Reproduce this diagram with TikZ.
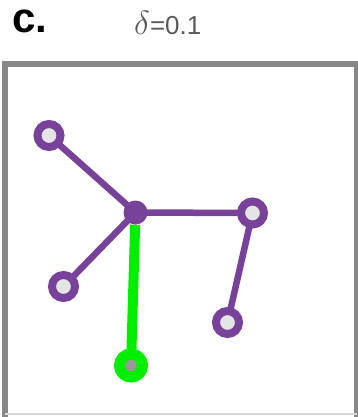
\documentclass[tikz,border=0pt]{standalone}
\usepackage{fontspec}
\setmainfont{Liberation Sans}
\usepackage{tikz}
\usetikzlibrary{backgrounds}
\definecolor{tpurple}{RGB}{120,66,155}
\definecolor{tgreen}{RGB}{0,238,0}
\definecolor{tframe}{RGB}{135,135,135}
\begin{document}
\begin{tikzpicture}[x=1pt,y=-1pt,
leaf/.style={circle,draw=tpurple,line width=8pt,fill=black!10,minimum size=23pt,inner sep=0pt},
hub/.style={circle,fill=tpurple,minimum size=24pt,inner sep=0pt},
root/.style={circle,draw=tgreen,line width=11pt,fill=black!40,minimum size=23pt,inner sep=0pt},
link/.style={draw=tpurple,line width=6.5pt},
rootlink/.style={draw=tgreen,line width=10pt}]
\useasboundingbox (0,0) rectangle (358,417);
% panel label and title
\node[anchor=base west,inner sep=0pt,font=\bfseries\fontsize{42}{42}\selectfont] (lab) at (12,33) {c.};
\node[anchor=base west,inner sep=0pt,text=black!65,font=\fontsize{26}{26}\selectfont] (title) at (134,35) {\scalebox{1.35}{$\delta$}=0.1};
% frame
\draw[tframe,line width=6pt] (4.5,419) -- (4.5,64.5) -- (357,64.5) -- (357,419);
\draw[black!15,line width=1.5pt] (4.5,414) -- (357,414);
% tree
\node[hub] (c) at (135.5,212.5) {};
\node[leaf] (tl) at (49,135.5) {};
\node[leaf] (r) at (252.5,213) {};
\node[leaf] (bl) at (63.5,286.5) {};
\node[leaf] (br) at (227.5,322.5) {};
\node[root] (g) at (131,365.5) {};
\begin{scope}[on background layer]
\draw[link] (c.center) -- (tl.center);
\draw[link] (c.center) -- (r.center);
\draw[link] (c.center) -- (bl.center);
\draw[link] (r.center) -- (br.center);
\draw[rootlink] (c) -- (g.center);
\end{scope}
\end{tikzpicture}
\end{document}
